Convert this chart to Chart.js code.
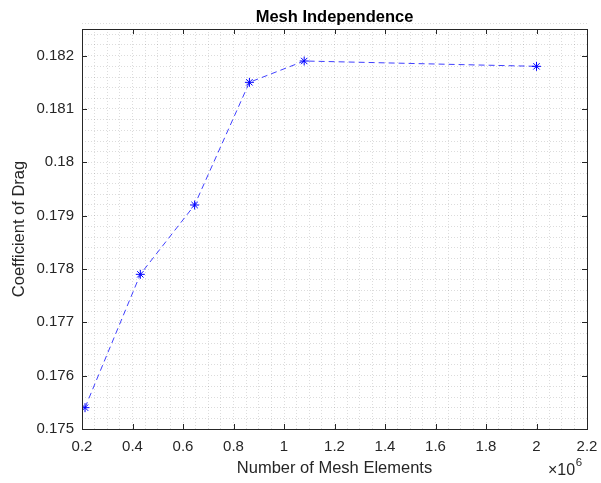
<!DOCTYPE html>
<html>
<head>
<meta charset="utf-8">
<script src="https://cdn.jsdelivr.net/npm/chart.js@4"></script>
<style>
  html, body { margin: 0; padding: 0; background: #fff; }
  #wrap { width: 601px; height: 483px; }
</style>
</head>
<body>
<div id="wrap"><canvas id="meshChart"></canvas></div>
<script>
// mesh study results
const meshElements = [212000, 431000, 646000, 863000, 1080000, 2000000];
const dragCoeff = [0.1754, 0.1779, 0.1792, 0.1815, 0.1819, 0.1818];

// major ticks
const xTickValues = [200000, 400000, 600000, 800000, 1000000, 1200000, 1400000, 1600000, 1800000, 2000000, 2200000];
const xTickLabels = ['0.2', '0.4', '0.6', '0.8', '1', '1.2', '1.4', '1.6', '1.8', '2', '2.2'];
const yTickValues = [0.175, 0.176, 0.177, 0.178, 0.179, 0.180, 0.181, 0.182];
const yTickLabels = ['0.175', '0.176', '0.177', '0.178', '0.179', '0.18', '0.181', '0.182'];

const xMin = 200000, xMax = 2200000, xMinorStep = 50000;
const yMin = 0.175, yMax = 0.1825, yMinorStep = 0.0002;

const axisColor = '#262626';
const gridColor = 'rgba(38, 38, 38, 0.16)';
const font = '"Liberation Sans", Arial, Helvetica, sans-serif';

// minor grid positions (grid on + grid minor)
function minorTicks(min, max, step) {
    const n = Math.round((max - min) / step);
    const out = [];
    for (let i = 0; i <= n; i++) out.push({ value: min + i * step });
    return out;
}

function labelFor(value, values, labels, tol) {
    const i = values.findIndex(v => Math.abs(v - value) < tol);
    return i >= 0 ? labels[i] : '';
}

// box around the axes, inward tick marks and the x exponent
const frame = {
    id: 'frame',
    afterDraw(chart) {
        const { ctx, chartArea: a, scales } = chart;
        const len = 5;
        ctx.save();
        ctx.strokeStyle = axisColor;
        ctx.lineWidth = 1;
        ctx.beginPath();
        xTickValues.forEach(v => {
            const x = Math.round(scales.x.getPixelForValue(v)) + 0.5;
            ctx.moveTo(x, a.bottom); ctx.lineTo(x, a.bottom - len);
            ctx.moveTo(x, a.top); ctx.lineTo(x, a.top + len);
        });
        yTickValues.forEach(v => {
            const y = Math.round(scales.y.getPixelForValue(v)) + 0.5;
            ctx.moveTo(a.left, y); ctx.lineTo(a.left + len, y);
            ctx.moveTo(a.right, y); ctx.lineTo(a.right - len, y);
        });
        ctx.stroke();
        ctx.strokeRect(Math.round(a.left) + 0.5, Math.round(a.top) + 0.5,
            Math.round(a.right - a.left), Math.round(a.bottom - a.top));

        ctx.fillStyle = axisColor;
        ctx.textAlign = 'left';
        ctx.textBaseline = 'alphabetic';
        ctx.font = '16px ' + font;
        const base = '\u00d710';
        const x0 = a.right - 39;
        ctx.fillText(base, x0, 475);
        const w = ctx.measureText(base).width;
        ctx.font = '11.5px ' + font;
        ctx.fillText('6', x0 + w + 0.5, 466);
        ctx.restore();
    }
};

new Chart(document.getElementById('meshChart'), {
    type: 'line',
    data: {
        datasets: [{
            data: meshElements.map((x, i) => ({ x: x, y: dragCoeff[i] })),
            borderColor: 'rgba(0, 0, 255, 0.75)',
            borderWidth: 1,
            borderDash: [6, 4],
            pointStyle: 'star',
            pointRadius: 4.5,
            pointBorderColor: '#0000ff',
            pointBorderWidth: 1,
            tension: 0,
            fill: false
        }]
    },
    options: {
        responsive: true,
        maintainAspectRatio: false,
        animation: false,
        events: [],
        layout: { padding: { left: 0, right: 14, top: 0, bottom: 0 } },
        plugins: {
            legend: { display: false },
            tooltip: { enabled: false },
            title: {
                display: true,
                text: 'Mesh Independence',
                fullSize: false,
                color: '#000',
                font: { family: font, size: 16.5, weight: 'bold', lineHeight: 1.2 },
                padding: { top: 7.6, bottom: 1.6 }
            }
        },
        scales: {
            x: {
                type: 'linear',
                min: xMin,
                max: xMax,
                afterBuildTicks: s => { s.ticks = minorTicks(xMin, xMax, xMinorStep); },
                afterFit: s => { s.height = 54; s.paddingLeft = 0; s.paddingRight = 0; },
                grid: { color: gridColor, lineWidth: 1, drawTicks: false },
                border: { display: false, dash: [1, 2] },
                ticks: {
                    autoSkip: false,
                    maxRotation: 0,
                    padding: 9,
                    color: axisColor,
                    font: { family: font, size: 15 },
                    callback: v => labelFor(v, xTickValues, xTickLabels, 1)
                },
                title: {
                    display: true,
                    text: 'Number of Mesh Elements',
                    color: axisColor,
                    font: { family: font, size: 16.5, lineHeight: 1.2 },
                    padding: { top: 0, bottom: 5 }
                }
            },
            y: {
                type: 'linear',
                min: yMin,
                max: yMax,
                afterBuildTicks: s => { s.ticks = minorTicks(yMin, yMax, yMinorStep); },
                afterFit: s => { s.width = 82; },
                grid: { color: gridColor, lineWidth: 1, drawTicks: false },
                border: { display: false, dash: [1, 2] },
                ticks: {
                    autoSkip: false,
                    padding: 8,
                    color: axisColor,
                    font: { family: font, size: 15 },
                    callback: v => labelFor(v, yTickValues, yTickLabels, 1e-7)
                },
                title: {
                    display: true,
                    text: 'Coefficient of Drag',
                    color: axisColor,
                    font: { family: font, size: 16.5, lineHeight: 1.2 },
                    padding: { top: 9.6, bottom: 0 }
                }
            }
        }
    },
    plugins: [frame]
});
</script>
</body>
</html>
